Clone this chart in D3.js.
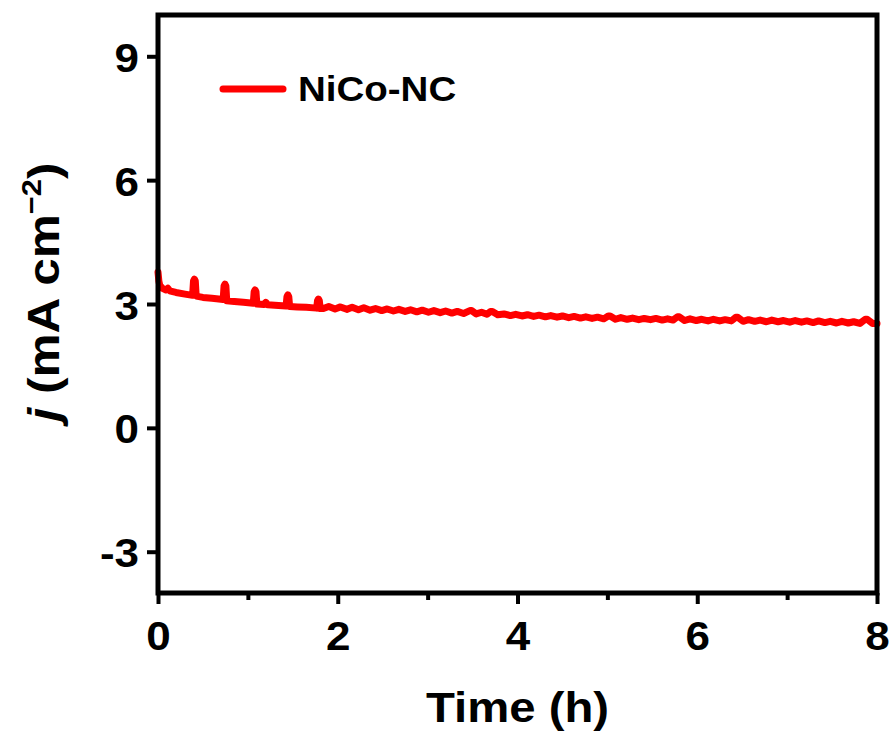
<!DOCTYPE html>
<html>
<head>
<meta charset="utf-8">
<script src="https://cdn.jsdelivr.net/npm/d3@7/dist/d3.min.js"></script>
<style>
  html, body { margin: 0; padding: 0; background: #fff; }
  text { font-family: "Liberation Sans", Arial, sans-serif; font-weight: bold; fill: #000; }
</style>
</head>
<body>
<svg id="chart" width="895" height="742"></svg>
<script>
// ---- data ----
const seriesName = "NiCo-NC";
const timeH = [
  0.00, 0.01, 0.02, 0.05, 0.09, 0.11, 0.13, 0.20, 0.30, 0.385, 0.395, 0.405, 0.415, 0.425, 0.50, 0.60,
  0.725, 0.735, 0.745, 0.755, 0.765, 0.85, 0.95, 1.06, 1.07, 1.08, 1.09, 1.10, 1.18, 1.20, 1.22, 1.30,
  1.425, 1.435, 1.445, 1.455, 1.465, 1.55, 1.65, 1.765, 1.775, 1.785, 1.795, 1.805, 1.84,
  1.90, 1.97, 2.03, 2.10, 2.16, 2.23, 2.29, 2.36, 2.42, 2.49, 2.55, 2.62, 2.68, 2.75, 2.81, 2.88,
  2.94, 3.01, 3.07, 3.14, 3.20, 3.27, 3.33, 3.40, 3.47, 3.49, 3.54, 3.60, 3.66, 3.70, 3.72, 3.78,
  3.85, 3.92, 3.98, 4.05, 4.11, 4.18, 4.24, 4.31, 4.37, 4.44, 4.50, 4.57, 4.63, 4.70, 4.76, 4.83,
  4.89, 4.96, 5.01, 5.03, 5.09, 5.15, 5.22, 5.28, 5.35, 5.41, 5.48, 5.54, 5.61, 5.67, 5.73, 5.78,
  5.80, 5.86, 5.92, 5.99, 6.05, 6.12, 6.18, 6.25, 6.31, 6.38, 6.43, 6.45, 6.51, 6.57, 6.64, 6.70,
  6.77, 6.83, 6.90, 6.96, 7.03, 7.09, 7.16, 7.22, 7.29, 7.35, 7.42, 7.48, 7.55, 7.61, 7.68, 7.74,
  7.81, 7.87, 7.89, 7.95, 8.00
];
const currentJ = [
  3.77, 3.55, 3.45, 3.38, 3.34, 3.38, 3.32, 3.28, 3.24, 3.21, 3.56, 3.60, 3.56, 3.19, 3.16, 3.14,
  3.11, 3.44, 3.48, 3.44, 3.08, 3.06, 3.04, 3.02, 3.30, 3.34, 3.30, 3.00, 2.99, 3.04, 2.98, 2.97,
  2.95, 3.18, 3.22, 3.18, 2.94, 2.93, 2.92, 2.90, 3.08, 3.12, 3.08, 2.89, 2.89,
  2.94, 2.88, 2.93, 2.87, 2.92, 2.86, 2.91, 2.85, 2.89, 2.84, 2.88, 2.83, 2.87, 2.82, 2.86, 2.81,
  2.85, 2.80, 2.84, 2.79, 2.83, 2.78, 2.82, 2.77, 2.84, 2.84, 2.76, 2.80, 2.75, 2.82, 2.82, 2.74,
  2.76, 2.72, 2.75, 2.71, 2.74, 2.70, 2.73, 2.69, 2.72, 2.68, 2.71, 2.67, 2.70, 2.66, 2.69, 2.65,
  2.68, 2.64, 2.71, 2.71, 2.63, 2.67, 2.63, 2.66, 2.62, 2.65, 2.62, 2.65, 2.61, 2.64, 2.61, 2.69,
  2.69, 2.60, 2.64, 2.60, 2.63, 2.59, 2.63, 2.59, 2.62, 2.59, 2.68, 2.68, 2.58, 2.62, 2.58, 2.61,
  2.57, 2.61, 2.57, 2.60, 2.56, 2.60, 2.56, 2.59, 2.55, 2.59, 2.55, 2.58, 2.54, 2.58, 2.54, 2.57,
  2.53, 2.63, 2.63, 2.53, 2.53
];
const xTicks = [0, 2, 4, 6, 8];
const xMinorTicks = [1, 3, 5, 7];
const yTicks = [-3, 0, 3, 6, 9];
const xTitle = "Time (h)";

// ---- layout ----
const svg = d3.select("#chart");
const pLeft = 158, pRight = 877, pTop = 15, pBottom = 593;
const x = d3.scaleLinear().domain([0, 8]).range([pLeft, pRight]);
const y = d3.scaleLinear().domain([-4, 10]).range([pBottom, pTop]);
const SX = 1.1; // horizontal text stretch seen in the reference
const fmt = d => String(d);

// data line
const pts = timeH.map((t, i) => [t, currentJ[i]]);
svg.append("path")
  .datum(pts)
  .attr("fill", "none")
  .attr("stroke", "#ff0000")
  .attr("stroke-width", 7)
  .attr("stroke-linejoin", "round")
  .attr("stroke-linecap", "round")
  .attr("d", d3.line().x(d => x(d[0])).y(d => y(d[1])));

// x axis
const gx = svg.append("g").attr("transform", `translate(0,${pBottom})`)
  .call(d3.axisBottom(x).tickValues(xTicks).tickSize(11).tickSizeOuter(0).tickFormat(fmt));
gx.select(".domain").remove();
gx.selectAll(".tick line").attr("stroke", "#000").attr("stroke-width", 4);
gx.selectAll(".tick text").attr("font-size", 40).attr("y", 0).attr("dy", 0)
  .attr("transform", `translate(0,57) scale(${SX},1)`);

svg.append("g").attr("transform", `translate(0,${pBottom})`)
  .call(d3.axisBottom(x).tickValues(xMinorTicks).tickSize(7).tickSizeOuter(0).tickFormat(""))
  .call(g => g.select(".domain").remove())
  .selectAll(".tick line").attr("stroke", "#000").attr("stroke-width", 4);

// y axis
const gy = svg.append("g").attr("transform", `translate(${pLeft},0)`)
  .call(d3.axisLeft(y).tickValues(yTicks).tickSize(11).tickSizeOuter(0).tickFormat(fmt));
gy.select(".domain").remove();
gy.selectAll(".tick line").attr("stroke", "#000").attr("stroke-width", 4);
gy.selectAll(".tick text").attr("font-size", 40).attr("x", 0).attr("dy", 0)
  .attr("text-anchor", "end")
  .attr("transform", `translate(-19,15) scale(${SX},1)`);

// frame
svg.append("rect")
  .attr("x", pLeft).attr("y", pTop)
  .attr("width", pRight - pLeft).attr("height", pBottom - pTop)
  .attr("fill", "none").attr("stroke", "#000").attr("stroke-width", 5);

// x title
svg.append("text")
  .attr("transform", `translate(${(pLeft + pRight) / 2},722) scale(${SX},1)`)
  .attr("text-anchor", "middle").attr("font-size", 43)
  .text(xTitle);

// y title
const yt = svg.append("text")
  .attr("transform", `translate(59,292) rotate(-90) scale(${SX},1)`)
  .attr("text-anchor", "middle").attr("font-size", 45);
yt.append("tspan").attr("font-style", "italic").text("j");
yt.append("tspan").text(" (mA cm");
yt.append("tspan").attr("font-size", 28).attr("dy", -18).text("\u22122");
yt.append("tspan").attr("dy", 18).text(")");

// legend
svg.append("line")
  .attr("x1", 223).attr("x2", 283).attr("y1", 89).attr("y2", 89)
  .attr("stroke", "#ff0000").attr("stroke-width", 7).attr("stroke-linecap", "round");
svg.append("text")
  .attr("transform", `translate(298,101) scale(${SX},1)`)
  .attr("font-size", 35)
  .text(seriesName);
</script>
</body>
</html>
